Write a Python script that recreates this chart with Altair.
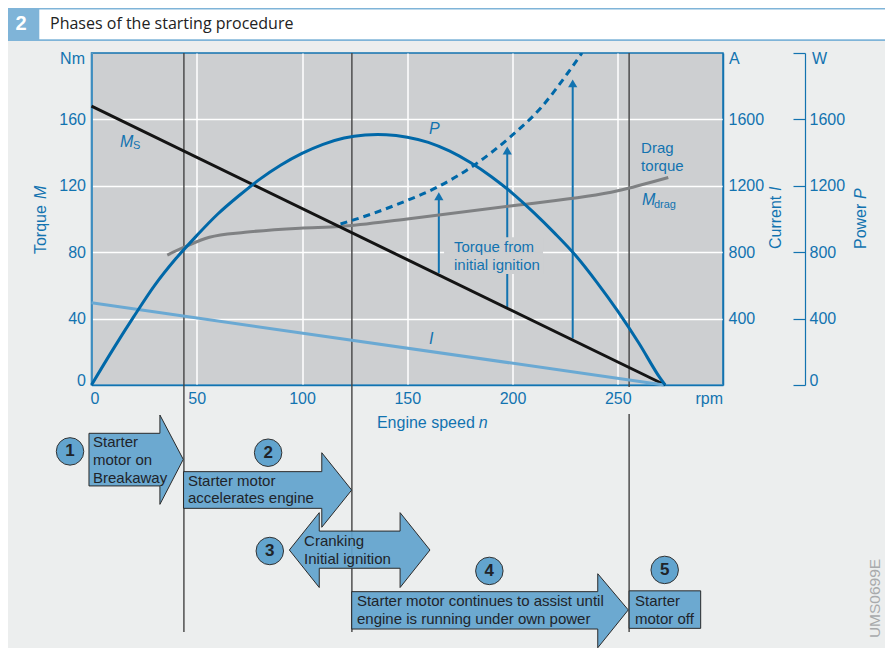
import altair as alt
import pandas as pd

BLUE = "#1273b0"
CURVE = "#0068a8"
LIGHT = "#6aa9d3"
FILL = "#62a4ce"
INK = "#20242a"
SANS = "Liberation Sans"

# --- curves (rpm, Nm / A / W) ---
p_rpm = [0, 10, 20, 30, 40, 50, 60, 70, 80, 90, 100, 110, 120, 130, 136, 140, 150, 160, 170, 180, 190, 200, 210, 220, 230, 240, 250, 260, 270, 272.5]
p_w = [0, 210, 410, 600, 760, 900, 1030, 1140, 1240, 1325, 1395, 1450, 1488, 1506, 1509, 1508, 1493, 1462, 1410, 1340, 1255, 1155, 1040, 915, 780, 620, 445, 253, 44, 0]
ms_rpm = [0, 272.5]
ms_nm = [168, 0]
i_rpm = [0, 272]
i_a = [495, 0]
drag_rpm = [36, 44, 56, 73, 99, 118, 150, 200, 250, 274]
drag_nm = [78.3, 83, 89, 92, 94.5, 95.5, 100, 108, 117, 125]
ign_rpm = [118.3, 133, 148, 164, 183, 199, 213.5, 226, 233]
ign_nm = [97, 103, 110.2, 119, 133.5, 149.5, 167, 187.5, 200]

# --- rising arrows ---
arr_rpm = [165, 197.5, 228.6]
arr_from = [67.5, 47, 28]
arr_to = [113.7, 141.3, 181.7]

# --- phase separators ---
sep_rpm = [43.9, 123.7, 255.4, 255.4]
sep_top = [200, 200, 200, -17.5]
sep_bot = [-148.8, -148.8, -1.2, -148.8]

# --- block arrows of the phases ---
block_id = [1] * 4 + [2] * 4 + [3] * 6 + [4] * 4 + [5] * 2
block_x = [-1.2, 32.5, 32.5, 43.6, 43.7, 109.4, 109.4, 123.6, 94, 108.2, 108.2, 146.6, 146.6, 160.8, 123.6, 240.5, 240.5, 255, 255.4, 289.4]
block_top = [-29.1, -29.1, -18.1, -44.8, -52.2, -52.2, -40.8, -63.3, -99.4, -76.9, -88, -88, -76.9, -99.4, -124.5, -124.5, -113.7, -135.5, -124, -124]
block_bot = [-60.8, -60.8, -71.9, -44.8, -74.3, -74.3, -85.7, -63.3, -99.4, -122, -110.4, -110.4, -122, -99.4, -147, -147, -158.3, -135.5, -146.6, -146.6]

# --- numbered circles ---
num_t = ["1", "2", "3", "4", "5"]
num_x = [-10.2, 83.9, 84.7, 189, 272.3]
num_y = [-40, -40.8, -100, -112, -111.4]

# --- phase texts ---
ph_t = ["Starter", "motor on", "Breakaway", "Starter motor", "accelerates engine", "Cranking", "Initial ignition",
        "Starter motor continues to assist until", "engine is running under own power", "Starter", "motor off"]
ph_x = [0.7, 0.7, 0.7, 45.8, 45.8, 101, 101, 126.1, 126.1, 258.2, 258.2]
ph_y = [-34.3, -45.2, -56, -57.8, -68.1, -94, -104.8, -130.1, -141, -130.1, -141]

# --- plot texts ---
lab_t = ["Drag", "torque", "Torque from", "initial ignition"]
lab_x = [261.1, 261.1, 172.2, 172.2]
lab_y = [142.8, 131.9, 83.1, 72.3]
ital_t = ["M", "P", "I", "M"]
ital_x = [13.5, 160.3, 160.3, 261.5]
ital_y = [146.4, 154.2, 27.7, 111.4]
sub_t = ["S", "drag"]
sub_x = [19.7, 267.2]
sub_y = [144, 108.4]
unit_t = ["A", "W", "Engine speed "]
unit_x = [302.9, 342.3, 135.6]
unit_y = [196.4, 196.4, -22.9]
unit_r_t = ["Nm", "rpm"]
unit_r_x = [-3.1, 300]
unit_r_y = [196.4, -8.4]
rot_t = ["Torque ", "Current ", "Power "]
rot_x = [-24, 325.2, 365.5]
rot_y = [78.9, 81.9, 81.9]
rot_i_t = ["M", "I", "P"]
rot_i_x = [-24, 325.2, 365.5]
rot_i_y = [112, 116.9, 112]

xscale = alt.Scale(domain=[0, 300], nice=False, zero=False)
xaxis = alt.Axis(values=[0, 50, 100, 150, 200, 250], title=None, grid=True, gridColor="white", gridWidth=1.5,
                 domainColor=BLUE, domainWidth=1.5, ticks=False, tickSize=0, labelColor=BLUE, labelFont=SANS,
                 labelFontSize=16, labelPadding=5, labelFlush=False,
                 labelOffset={"condition": {"test": "datum.value == 0", "value": 3}, "value": 0})
X = alt.X("x:Q", scale=xscale, axis=xaxis)
torque = alt.Scale(domain=[0, 200], nice=False, zero=False)
Yn = alt.Y("y:Q", scale=torque, axis=None)


def frame(**cols):
    return pd.DataFrame(cols)


def text(t, x, y, angle=0, **mk):
    return alt.Chart(frame(t=t, x=x, y=y)).mark_text(baseline="middle", font=SANS, angle=angle, **mk).encode(
        x=X, y=Yn, text="t:N")


# torque axis + grid
base = alt.Chart(frame(x=[0], y=[0])).mark_point(opacity=0).encode(
    x=X,
    y=alt.Y("y:Q", scale=torque, axis=alt.Axis(
        orient="left", values=[0, 40, 80, 120, 160], title=None, grid=True, gridColor="white", gridWidth=1.5,
        domainColor=BLUE, domainWidth=1.5, ticks=False, tickSize=0, labelColor=BLUE, labelFont=SANS,
        labelFontSize=16, labelPadding=6,
        labelOffset={"condition": {"test": "datum.value == 0", "value": -5}, "value": 0})))

header_band = alt.Chart(frame(x=[-39.7], x2=[380.8], y=[227.1], y2=[207.2])).mark_rect(color="#7fb4d8").encode(
    x=X, x2="x2:Q", y=Yn, y2="y2:Q")
header_white = alt.Chart(frame(x=[-24.8], x2=[380.8], y=[226.2], y2=[208.3])).mark_rect(color="white").encode(
    x=X, x2="x2:Q", y=Yn, y2="y2:Q")

separators = alt.Chart(frame(x=sep_rpm, y=sep_top, y2=sep_bot)).mark_rule(color="#444444", strokeWidth=1.4).encode(
    x=X, y=Yn, y2="y2:Q")

rising = alt.Chart(frame(x=arr_rpm, y=arr_from, y2=arr_to)).mark_rule(color=BLUE, strokeWidth=2).encode(
    x=X, y=Yn, y2="y2:Q")
text_mask = alt.Chart(frame(x=[167.5], x2=[214.5], y=[89], y2=[66.9])).mark_rect(color="#cdcfd1").encode(
    x=X, x2="x2:Q", y=Yn, y2="y2:Q")
heads = alt.Chart(frame(x=arr_rpm, y=arr_to)).mark_point(
    shape="triangle-up", filled=True, color=BLUE, opacity=1, size=85).encode(x=X, y=Yn)

drag = alt.Chart(frame(x=drag_rpm, y=drag_nm)).mark_line(color="#7f8183", strokeWidth=3, interpolate="monotone").encode(x=X, y=Yn)
ignition = alt.Chart(frame(x=ign_rpm, y=ign_nm)).mark_line(
    color=CURVE, strokeWidth=3, strokeDash=[7, 5], clip=True, interpolate="monotone").encode(x=X, y=Yn)
starter = alt.Chart(frame(x=ms_rpm, y=ms_nm)).mark_line(color="#141414", strokeWidth=3).encode(x=X, y=Yn)

# current axis and curve
current_scale = alt.Scale(domain=[0, 2000], nice=False, zero=False)
current = alt.Chart(frame(x=i_rpm, y=i_a)).mark_line(color=LIGHT, strokeWidth=3).encode(
    x=X,
    y=alt.Y("y:Q", scale=current_scale, axis=alt.Axis(
        orient="right", values=[400, 800, 1200, 1600], title=None, grid=False, domainColor=BLUE, domainWidth=1.5,
        format="d", ticks=False, tickSize=0, labelColor=BLUE, labelFont=SANS, labelFontSize=16, labelPadding=5)))

# power axis and curve
power_scale = alt.Scale(domain=[0, 2000], nice=False, zero=False)
power = alt.Chart(frame(x=p_rpm, y=p_w)).mark_line(color=CURVE, strokeWidth=3, interpolate="monotone").encode(
    x=X,
    y=alt.Y("y:Q", scale=power_scale, axis=alt.Axis(
        orient="left", offset=-713.5, values=[0, 400, 800, 1200, 1600, 2000], title=None, grid=False, format="d",
        domainColor=BLUE, domainWidth=1.2, tickColor=BLUE, tickWidth=1.2, tickSize=12, labelColor=BLUE,
        labelFont=SANS, labelFontSize=16, labelAlign="left", labelPadding=-16,
        labelExpr="datum.value == 2000 ? '' : datum.label",
        labelOffset={"condition": {"test": "datum.value == 0", "value": -5}, "value": 0})))

blocks = alt.Chart(frame(id=block_id, x=block_x, y=block_top, y2=block_bot)).mark_area(
    color=FILL, fillOpacity=0.93, stroke="#2a2a2a", strokeWidth=1).encode(
    x=X, y=Yn, y2="y2:Q", detail="id:N")

circles = alt.Chart(frame(x=num_x, y=num_y)).mark_point(
    shape="circle", filled=True, fill=FILL, stroke="#333333", strokeWidth=1, opacity=1, size=755).encode(x=X, y=Yn)

layers = [
    base, header_band, header_white, separators, rising, text_mask, heads, drag, ignition, starter,
    current, power, blocks, circles,
    text(num_t, num_x, num_y, align="center", fontSize=17, fontWeight="bold", color=INK),
    text(ph_t, ph_x, ph_y, align="left", fontSize=15, color=INK),
    text(lab_t, lab_x, lab_y, align="left", fontSize=15, color=BLUE),
    text(ital_t, ital_x, ital_y, align="left", fontSize=16, fontStyle="italic", color=BLUE),
    text(sub_t, sub_x, sub_y, align="left", fontSize=11, color=BLUE),
    text(unit_t, unit_x, unit_y, align="left", fontSize=16, color=BLUE),
    text(["n"], [184], [-22.9], align="left", fontSize=16, fontStyle="italic", color=BLUE),
    text(unit_r_t, unit_r_x, unit_r_y, align="right", fontSize=16, color=BLUE),
    text(rot_t, rot_x, rot_y, angle=270, align="left", fontSize=16, color=BLUE),
    text(rot_i_t, rot_i_x, rot_i_y, angle=270, align="left", fontSize=16, fontStyle="italic", color=BLUE),
    text(["2"], [-33.5], [217.5], align="center", fontSize=20, fontWeight="bold", color="white"),
    alt.Chart(frame(t=["Phases of the starting procedure"], x=[-19.7], y=[217.5])).mark_text(
        baseline="middle", align="left", font="Open Sans", fontSize=16, color="#222222").encode(x=X, y=Yn, text="t:N"),
    text(["UMS0699E"], [372], [-128.6], angle=270, align="center", fontSize=15.5, color="#a8aaac"),
]

chart = alt.layer(*layers).resolve_scale(y="independent").properties(
    width=631.5,
    height=332,
    autosize=alt.AutoSizeParams(type="none"),
    padding={"left": 83.5, "top": 45, "right": 162, "bottom": 263},
    background="#eceeee",
).configure_view(fill="#cdcfd1", stroke=BLUE, strokeWidth=1.5)

chart.save("out.html", embed_options={"renderer": "svg", "actions": False})
